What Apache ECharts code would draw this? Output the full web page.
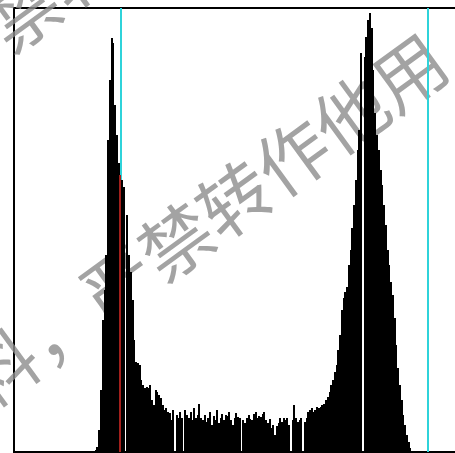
<!DOCTYPE html>
<html>
<head>
<meta charset="utf-8">
<script src="https://cdn.jsdelivr.net/npm/echarts@6/dist/echarts.min.js"></script>
<style>
html,body{margin:0;padding:0;background:#fff;overflow:hidden;width:455px;height:453px;}
#chart{width:475px;height:453px;}
#chart svg path{shape-rendering:crispEdges;}
</style>
</head>
<body>
<div id="chart"></div>
<script>
// Histogram bins 0..255 (counts scaled 0..1000)
const binCount = 256;
const leadingZeros = 46;
const histogramValues = [
  4, 11, 50, 140, 297, 365, 444, 703, 838, 932,
  921, 782, 714, 651, 624, 613, 597, 0, 534, 444,
  405, 342, 252, 203, 200, 196, 162, 151, 144, 146,
  144, 151, 117, 106, 140, 135, 128, 122, 106, 95,
  99, 90, 88, 72, 95, 0, 83, 77, 90, 77,
  0, 95, 83, 77, 90, 72, 99, 77, 83, 108,
  77, 72, 83, 68, 77, 90, 61, 81, 72, 95,
  65, 77, 86, 72, 83, 81, 90, 72, 61, 77,
  88, 79, 77, 0, 72, 65, 77, 83, 74, 72,
  86, 90, 77, 81, 79, 86, 90, 72, 65, 74,
  54, 61, 38, 59, 65, 77, 68, 77, 72, 77,
  61, 0, 72, 106, 77, 68, 72, 77, 0, 68,
  77, 90, 95, 99, 90, 95, 101, 99, 101, 106,
  108, 117, 124, 135, 151, 162, 180, 196, 230, 264,
  320, 347, 360, 372, 421, 455, 505, 556, 613, 680,
  725, 899, 0, 890, 935, 973, 989, 955, 860, 764,
  714, 680, 635, 601, 556, 511, 455, 421, 383, 354,
  302, 241, 189, 151, 117, 83, 61, 38, 23, 9,
  2
];
const highlightBin = 60;      // red bar
const markerBins = [60, 235]; // cyan lines
const watermarkText = '料，严禁转作他用';

const categories = [];
const values = [];
for (let i = 0; i < binCount; i++) {
  categories.push(String(i));
  const k = i - leadingZeros;
  values.push(k >= 0 && k < histogramValues.length ? histogramValues[k] : 0);
}
const barData = values.map((v, i) => i === highlightBin
  ? { value: v, itemStyle: { color: '#a3201c' } }
  : v);

const chart = echarts.init(document.getElementById('chart'), null, { renderer: 'svg' });
const wmStyle = {
  text: watermarkText,
  font: '72px "Noto Sans CJK SC"',
  fill: 'rgba(140,140,140,0.8)',
  align: 'center',
  verticalAlign: 'middle'
};
const angle = 36 * Math.PI / 180;
chart.setOption({
  backgroundColor: '#ffffff',
  animation: false,
  grid: {
    left: 14, top: 8, width: 450, height: 444,
    show: true, borderColor: '#000', borderWidth: 2, backgroundColor: 'transparent'
  },
  xAxis: {
    type: 'category', data: categories, boundaryGap: true,
    axisLine: { show: false }, axisTick: { show: false }, axisLabel: { show: false },
    splitLine: { show: false }
  },
  yAxis: {
    type: 'value', min: 0, max: 1000,
    axisLine: { show: false }, axisTick: { show: false }, axisLabel: { show: false },
    splitLine: { show: false }
  },
  graphic: [
    { type: 'text', x: 203, y: 217, rotation: angle, z: 0, silent: true, style: wmStyle },
    { type: 'text', x: 50, y: -12, rotation: angle, z: 0, silent: true, style: wmStyle }
  ],
  series: [
    {
      type: 'line', data: [], z: 1, silent: true,
      markLine: {
        z: 1,
        symbol: 'none', silent: true, label: { show: false },
        lineStyle: { color: '#2fd3da', width: 2, type: 'solid' },
        data: markerBins.map(b => ({ xAxis: b }))
      }
    },
    {
      type: 'bar', data: barData, z: 3,
      barWidth: 2,
      itemStyle: { color: '#000' }
    }
  ]
});
</script>
</body>
</html>
